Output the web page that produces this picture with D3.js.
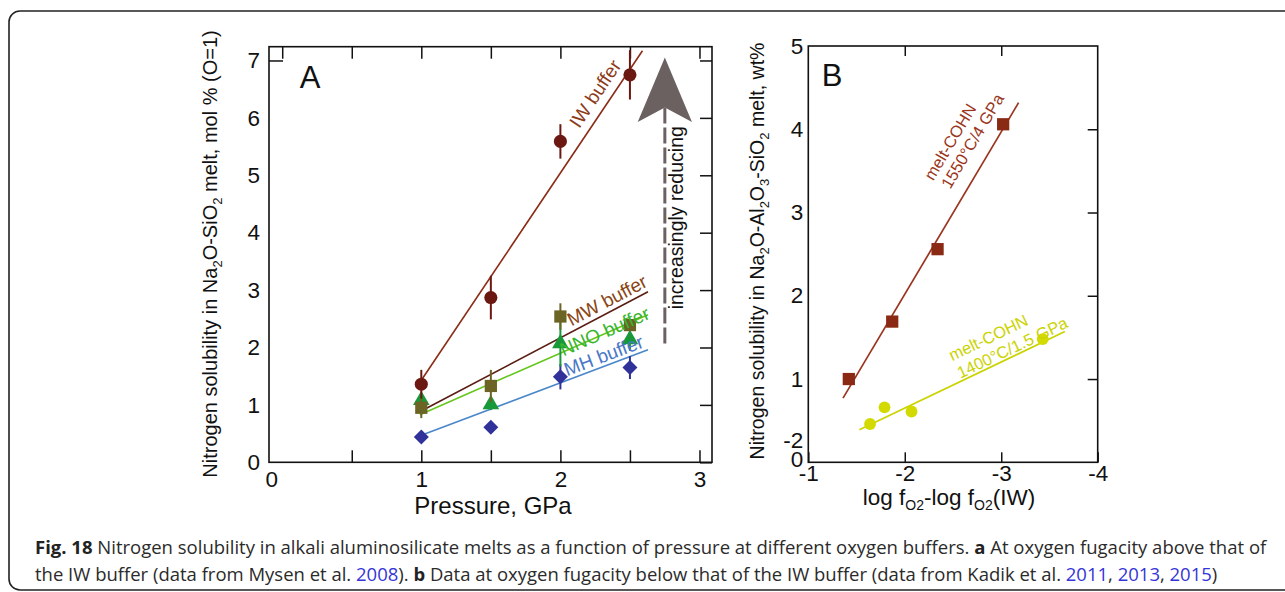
<!DOCTYPE html>
<html>
<head>
<meta charset="utf-8">
<script src="https://cdn.jsdelivr.net/npm/d3@7"></script>
<style>
  body { margin: 0; background: #fff; }
  svg { display: block; }
</style>
</head>
<body>
<svg id="fig" width="1285" height="592"></svg>
<script>
// ---- panel A : N solubility vs pressure (Mysen et al. 2008) ----
var pressures = [1, 1.5, 2, 2.5];
var iwVals  = [1.36, 2.87, 5.59, 6.75];
var iwErr   = [0.25, 0.38, 0.30, 0.43];
var mwVals  = [0.95, 1.33, 2.54, 2.39];
var mwErr   = [0.18, 0.28, 0.23, 0.10];
var nnoVals = [1.08, 1.01, 2.07, 2.14];
var nnoErr  = [0.12, 0.10, 0.40, 0.20];
var mhVals  = [0.44, 0.61, 1.49, 1.65];
var mhErr   = [0.05, 0.05, 0.22, 0.20];
// fitted lines, [pressure, solubility] end points
var iwFit  = [[1.0, 1.43], [2.59, 7.17]];
var mwFit  = [[1.02, 0.92], [2.63, 2.97]];
var nnoFit = [[0.99, 0.83], [2.63, 2.57]];
var mhFit  = [[1.0, 0.47], [2.63, 1.96]];
var aXTicks = [0, 0.5, 1, 1.5, 2, 2.5, 3];
var aYTicks = [0, 1, 2, 3, 4, 5, 6, 7];

// ---- panel B : N solubility vs log fO2 - log fO2(IW) (Kadik et al.) ----
var hiFO2   = [-1.42, -1.87, -2.34, -3.02];
var hiVals  = [1.00, 1.69, 2.56, 4.06];
var hiFit   = [[-1.36, 0.77], [-3.18, 4.32]];
var loFO2   = [-1.64, -1.79, -2.07, -3.43];
var loVals  = [0.46, 0.66, 0.61, 1.48];
var loFit   = [[-1.53, 0.39], [-3.66, 1.57]];
var bXTicks = [-1, -2, -3, -4];
var bYTicks = [0, 0.26, 1, 2, 3, 4, 5];
var bYLabels = ['0', '-2', '1', '2', '3', '4', '5'];

var FONT = '"Liberation Sans", Arial, sans-serif';
var svg = d3.select('#fig').style('font-family', FONT);

// rounded frame of the figure box
svg.append('rect')
  .attr('x', 9).attr('y', 11).attr('width', 1290).attr('height', 579)
  .attr('rx', 11).attr('fill', 'none').attr('stroke', '#222').attr('stroke-width', 1.6);

var xA = d3.scaleLinear().domain([-0.095, 3.09]).range([269, 712]);
var yA = d3.scaleLinear().domain([0, 7.24]).range([462.3, 46.7]);
var xB = d3.scaleLinear().domain([-1, -4]).range([808.3, 1097.7]);
var yB = d3.scaleLinear().domain([0, 5]).range([462.3, 46]);

function styleAxis(g, size) {
  g.select('.domain').remove();
  g.selectAll('line').attr('stroke', '#111').attr('stroke-width', 1.5);
  g.attr('font-family', FONT).attr('font-size', size);
  g.selectAll('text').attr('fill', '#111');
}

// ============ PANEL A ============
var gA = svg.append('g');

gA.append('g').attr('transform', 'translate(0,' + yA(0) + ')')
  .call(d3.axisBottom(xA).tickValues(aXTicks).tickSizeInner(-12).tickSizeOuter(0)
        .tickPadding(9).tickFormat(function(d) { return d % 1 === 0 ? d : ''; }))
  .call(function(g) {
    styleAxis(g, 22.5);
    // the zero sits on the frame corner, no bottom tick there
    g.selectAll('.tick').filter(function(d) { return d === 0; })
      .call(function(t) { t.select('line').remove(); t.select('text').attr('x', -11); });
  });

gA.append('g').attr('transform', 'translate(0,' + yA.range()[1] + ')')
  .call(d3.axisTop(xA).tickValues(aXTicks).tickSizeInner(-12).tickSizeOuter(0).tickFormat(''))
  .call(function(g) { styleAxis(g, 22.5); });

gA.append('g').attr('transform', 'translate(' + xA.range()[0] + ',0)')
  .call(d3.axisLeft(yA).tickValues(aYTicks).tickSizeInner(-14).tickSizeOuter(0).tickPadding(9))
  .call(function(g) {
    styleAxis(g, 22.5);
    g.selectAll('.tick').filter(function(d) { return d !== 7; }).select('line').remove();
  });

gA.append('g').attr('transform', 'translate(' + xA.range()[1] + ',0)')
  .call(d3.axisRight(yA).tickValues(aYTicks).tickSizeInner(-12).tickSizeOuter(0).tickFormat(''))
  .call(function(g) { styleAxis(g, 22.5); });

gA.append('rect')
  .attr('x', xA.range()[0]).attr('y', yA.range()[1])
  .attr('width', xA.range()[1] - xA.range()[0]).attr('height', yA.range()[0] - yA.range()[1])
  .attr('fill', 'none').attr('stroke', '#111').attr('stroke-width', 1.6);

var lineA = d3.line().x(function(d) { return xA(d[0]); }).y(function(d) { return yA(d[1]); });

var seriesA = [
  { vals: iwVals,  err: iwErr,  fit: iwFit,  mark: '#6b1812', line: '#8a2c17', lab: '#8c3a18', sym: d3.symbolCircle,   size: 135, rot: 0,  name: 'IW buffer',  at: [2.25, 6.42] },
  { vals: mwVals,  err: mwErr,  fit: mwFit,  mark: '#6b6424', line: '#5a1d12', lab: '#8a4515', sym: d3.symbolSquare,   size: 150, rot: 0,  name: 'MW buffer',  at: [2.335, 2.82] },
  { vals: nnoVals, err: nnoErr, fit: nnoFit, mark: '#17993a', line: '#66c61e', lab: '#38b52c', sym: d3.symbolTriangle, size: 120, rot: 0,  name: 'NNO buffer', at: [2.318, 2.28] },
  { vals: mhVals,  err: mhErr,  fit: mhFit,  mark: '#30329a', line: '#4a86c8', lab: '#4a78c8', sym: d3.symbolSquare,   size: 112, rot: 45, name: 'MH buffer',  at: [2.311, 1.86] }
];

// fit lines
seriesA.forEach(function(s) {
  gA.append('path').datum(s.fit).attr('d', lineA)
    .attr('fill', 'none').attr('stroke', s.line).attr('stroke-width', 1.6);
});
// error bars + markers, bottom series first so IW sits on top
seriesA.slice().reverse().forEach(function(s) {
  var pts = pressures.map(function(p, i) { return { x: p, y: s.vals[i], e: s.err[i] }; });
  gA.selectAll(null).data(pts).enter().append('line')
    .attr('x1', function(d) { return xA(d.x); }).attr('x2', function(d) { return xA(d.x); })
    .attr('y1', function(d) { return yA(d.y - d.e); }).attr('y2', function(d) { return yA(d.y + d.e); })
    .attr('stroke', s.mark).attr('stroke-width', 2);
  gA.selectAll(null).data(pts).enter().append('path')
    .attr('d', d3.symbol().type(s.sym).size(s.size))
    .attr('transform', function(d) { return 'translate(' + xA(d.x) + ',' + yA(d.y) + ') rotate(' + s.rot + ')'; })
    .attr('fill', s.mark);
});
// rotated buffer labels following their lines
seriesA.forEach(function(s) {
  var a = Math.atan2(yA(s.fit[1][1]) - yA(s.fit[0][1]), xA(s.fit[1][0]) - xA(s.fit[0][0])) * 180 / Math.PI;
  gA.append('text')
    .attr('transform', 'translate(' + xA(s.at[0]) + ',' + yA(s.at[1]) + ') rotate(' + a + ')')
    .attr('text-anchor', 'middle').attr('dominant-baseline', 'central')
    .attr('font-size', 19).attr('fill', s.lab).text(s.name);
});

// "increasingly reducing" arrow
var arX = 2.751;
gA.append('line')
  .attr('x1', xA(arX)).attr('x2', xA(arX)).attr('y1', yA(6.18)).attr('y2', yA(2.0))
  .attr('stroke', '#6b6161').attr('stroke-width', 3).attr('stroke-dasharray', '16,4');
gA.append('path')
  .attr('d', 'M' + xA(arX) + ',' + yA(7.05) +
             'L' + xA(arX + 0.195) + ',' + yA(5.93) +
             'L' + xA(arX) + ',' + yA(6.18) +
             'L' + xA(arX - 0.195) + ',' + yA(5.93) + 'Z')
  .attr('fill', '#6b6161');
gA.append('text')
  .attr('transform', 'translate(' + xA(2.83) + ',' + yA(4.26) + ') rotate(-90)')
  .attr('text-anchor', 'middle').attr('dominant-baseline', 'central')
  .attr('font-size', 19.5).attr('fill', '#111').text('increasingly reducing');

gA.append('text').attr('x', 310).attr('y', 77)
  .attr('text-anchor', 'middle').attr('dominant-baseline', 'central')
  .attr('font-size', 31).attr('fill', '#111').text('A');

// axis titles A
gA.append('text').attr('x', 493).attr('y', 514).attr('text-anchor', 'middle')
  .attr('font-size', 24).attr('fill', '#111').text('Pressure, GPa');

var tA = gA.append('text').attr('transform', 'translate(217,254) rotate(-90)')
  .attr('text-anchor', 'middle').attr('font-size', 20).attr('fill', '#111');
tA.append('tspan').text('Nitrogen solubility in Na');
tA.append('tspan').attr('font-size', 13).attr('dy', 5).text('2');
tA.append('tspan').attr('dy', -5).text('O-SiO');
tA.append('tspan').attr('font-size', 13).attr('dy', 5).text('2');
tA.append('tspan').attr('dy', -5).text(' melt, mol % (O=1)');

// ============ PANEL B ============
var gB = svg.append('g');

gB.append('g').attr('transform', 'translate(0,' + yB(0) + ')')
  .call(d3.axisBottom(xB).tickValues(bXTicks).tickSizeInner(-10).tickSizeOuter(0).tickPadding(3)
        .tickFormat(function(d) { return String(d); }))
  .call(function(g) { styleAxis(g, 22.5); });

gB.append('g').attr('transform', 'translate(0,' + yB(5) + ')')
  .call(d3.axisTop(xB).tickValues([-2, -3]).tickSizeInner(-10).tickSizeOuter(0).tickFormat(''))
  .call(function(g) { styleAxis(g, 22.5); });

gB.append('g').attr('transform', 'translate(' + xB(-1) + ',0)')
  .call(d3.axisLeft(yB).tickValues(bYTicks).tickSizeInner(0).tickSizeOuter(0).tickPadding(5)
        .tickFormat(function(d, i) { return bYLabels[i]; }))
  .call(function(g) {
    styleAxis(g, 22.5);
    // the zero label rides a little above the corner, as in the original
    g.selectAll('.tick').filter(function(d) { return d === 0; }).select('text').attr('y', -3);
  });

gB.append('g').attr('transform', 'translate(' + xB(-4) + ',0)')
  .call(d3.axisRight(yB).tickValues([1, 2, 3, 4]).tickSizeInner(-10).tickSizeOuter(0).tickFormat(''))
  .call(function(g) { styleAxis(g, 22.5); });

gB.append('rect')
  .attr('x', xB(-1)).attr('y', yB(5))
  .attr('width', xB(-4) - xB(-1)).attr('height', yB(0) - yB(5))
  .attr('fill', 'none').attr('stroke', '#111').attr('stroke-width', 1.6);

var lineB = d3.line().x(function(d) { return xB(d[0]); }).y(function(d) { return yB(d[1]); });

var seriesB = [
  { xs: hiFO2, vals: hiVals, fit: hiFit, col: '#8a2914', line: '#9a3520', sym: d3.symbolSquare, size: 150,
    labs: [['melt-COHN', -2.468, 3.85], ['1550°C/4 GPa', -2.70, 3.86]] },
  { xs: loFO2, vals: loVals, fit: loFit, col: '#d2da00', line: '#cbd300', sym: d3.symbolCircle, size: 110,
    labs: [['melt-COHN', -2.865, 1.50], ['1400°C/1.5 GPa', -3.114, 1.38]] }
];

seriesB.forEach(function(s) {
  gB.append('path').datum(s.fit).attr('d', lineB)
    .attr('fill', 'none').attr('stroke', s.line).attr('stroke-width', 1.7);
  var pts = s.xs.map(function(x, i) { return [x, s.vals[i]]; });
  gB.selectAll(null).data(pts).enter().append('path')
    .attr('d', d3.symbol().type(s.sym).size(s.size))
    .attr('transform', function(d) { return 'translate(' + xB(d[0]) + ',' + yB(d[1]) + ')'; })
    .attr('fill', s.col);
  var a = Math.atan2(yB(s.fit[1][1]) - yB(s.fit[0][1]), xB(s.fit[1][0]) - xB(s.fit[0][0])) * 180 / Math.PI;
  s.labs.forEach(function(l) {
    gB.append('text')
      .attr('transform', 'translate(' + xB(l[1]) + ',' + yB(l[2]) + ') rotate(' + a + ')')
      .attr('text-anchor', 'middle').attr('dominant-baseline', 'central')
      .attr('font-size', 16.5).attr('fill', s.line).text(l[0]);
  });
});

gB.append('text').attr('x', 832).attr('y', 75)
  .attr('text-anchor', 'middle').attr('dominant-baseline', 'central')
  .attr('font-size', 31).attr('fill', '#111').text('B');

var tBx = gB.append('text').attr('x', 949).attr('y', 505).attr('text-anchor', 'middle')
  .attr('font-size', 22.5).attr('fill', '#111');
tBx.append('tspan').text('log f');
tBx.append('tspan').attr('font-size', 14).attr('dy', 5).text('O2');
tBx.append('tspan').attr('dy', -5).text('-log f');
tBx.append('tspan').attr('font-size', 14).attr('dy', 5).text('O2');
tBx.append('tspan').attr('dy', -5).text('(IW)');

var tBy = gB.append('text').attr('transform', 'translate(764,251) rotate(-90)')
  .attr('text-anchor', 'middle').attr('font-size', 19.5).attr('fill', '#111');
[['Nitrogen solubility in Na', 0], ['2', 1], ['O-Al', 0], ['2', 1], ['O', 0], ['3', 1],
 ['-SiO', 0], ['2', 1], [' melt, wt%', 0]].forEach(function(p, i, arr) {
  var prevSub = i > 0 && arr[i - 1][1];
  var ts = tBy.append('tspan').text(p[0]);
  if (p[1]) ts.attr('font-size', 13).attr('dy', prevSub ? 0 : 5);
  else if (prevSub) ts.attr('dy', -5);
});

// ============ CAPTION ============
var capLines = [
  [['Fig. 18', 'b'], [' Nitrogen solubility in alkali aluminosilicate melts as a function of pressure at different oxygen buffers. ', ''],
   ['a', 'b'], [' At oxygen fugacity above that of', '']],
  [['the IW buffer (data from Mysen et al. ', ''], ['2008', 'l'], ['). ', ''], ['b', 'b'],
   [' Data at oxygen fugacity below that of the IW buffer (data from Kadik et al. ', ''],
   ['2011', 'l'], [', ', ''], ['2013', 'l'], [', ', ''], ['2015', 'l'], [')', '']]
];
var capTargets = [1232, 1183];
capLines.forEach(function(line, li) {
  var t = svg.append('text').attr('x', 35).attr('y', 554 + li * 27)
    .style('font-family', '"Open Sans", "Noto Sans", sans-serif').attr('font-size', 16).attr('fill', '#2b2b2b');
  line.forEach(function(p) {
    var ts = t.append('tspan').text(p[0]);
    if (p[1] === 'b') ts.attr('font-weight', 'bold').attr('fill', '#222');
    if (p[1] === 'l') ts.attr('fill', '#3535d8');
  });
  var w = t.node().getComputedTextLength();
  t.attr('font-size', 16 * capTargets[li] / w);
});
</script>
</body>
</html>
